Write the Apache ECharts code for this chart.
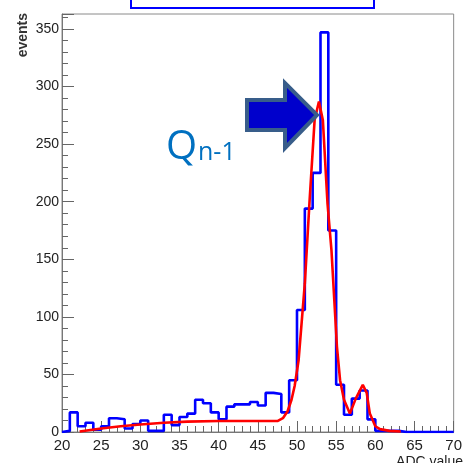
<!DOCTYPE html>
<html>
<head>
<meta charset="utf-8">
<script src="https://cdn.jsdelivr.net/npm/echarts@6/dist/echarts.min.js"></script>
<style>
html,body{margin:0;padding:0;background:#fff;}
#chart{width:465px;height:463px;}
</style>
</head>
<body>
<div id="chart"></div>
<script>
// ---- data ----
var binStart = 20;          // ADC value of first bin low edge
var binWidth = 1;
var histCounts = [1, 17, 5, 8, 2, 5, 12, 11, 3, 7,
                  10, 1, 1, 15, 6, 13, 16, 28, 25, 17,
                  11, 22, 24, 24, 26, 23, 34, 33, 17, 45,
                  106, 194, 225, 347, 175, 41, 15, 29, 36, 11,
                  1, 1, 1, 0, 0, 0, 0, 0, 0, 0];
var fitX = [22.25, 25, 27.5, 30, 33, 36, 40, 44, 47.5, 48.2, 48.8, 49.3, 49.7, 50.2, 51, 51.6, 52.25, 52.8, 53.3, 53.9, 54.4, 55.1, 55.5, 56, 56.75, 57.5, 58.4, 58.9, 59.3, 60, 60.6, 61.8, 63.25];
var fitY = [0.5, 3, 5, 6.5, 8, 9, 9.5, 9.5, 9.5, 12, 18, 28, 40, 62, 129, 200, 271, 287, 271, 198, 158, 74, 45, 28, 16, 29, 41, 34, 16, 5, 2.5, 1, 0.5];
var xTicks = [20, 25, 30, 35, 40, 45, 50, 55, 60, 65, 70];
var yTicks = [0, 50, 100, 150, 200, 250, 300, 350];

// ---- build series data ----
var histData = [[binStart, 0]];
for (var i = 0; i < histCounts.length; i++) {
  histData.push([binStart + i * binWidth, histCounts[i]]);
}
histData.push([binStart + histCounts.length * binWidth, 0]);
var fitData = fitX.map(function (x, i) { return [x, fitY[i]]; });

var chart = echarts.init(document.getElementById('chart'), null, {renderer: 'canvas'});
var labelFont = {color: '#222', fontFamily: 'Liberation Sans, sans-serif', fontSize: 14};

chart.setOption({
  animation: false,
  backgroundColor: '#fff',
  grid: {left: 62, right: 2, top: 14, bottom: 31, show: true, borderColor: '#8a8a8a', borderWidth: 1},
  xAxis: {
    type: 'value', min: xTicks[0], max: xTicks[xTicks.length - 1], interval: 5,
    axisLine: {show: true, lineStyle: {color: '#777', width: 1}},
    axisTick: {show: true, inside: true, length: 11, lineStyle: {color: '#666'}},
    minorTick: {show: true, splitNumber: 5, length: 6, lineStyle: {color: '#666'}},
    splitLine: {show: false},
    axisLabel: Object.assign({margin: 6, showMaxLabel: true}, labelFont, {fontSize: 15})
  },
  yAxis: {
    type: 'value', min: 0, max: 363, interval: 50,
    axisLine: {show: true, lineStyle: {color: '#777', width: 1}},
    axisTick: {show: true, inside: true, length: 12, lineStyle: {color: '#666'}},
    minorTick: {show: true, splitNumber: 5, length: 6, lineStyle: {color: '#666'}},
    splitLine: {show: false},
    axisLabel: Object.assign({margin: 3, showMaxLabel: false}, labelFont)
  },
  series: [
    {
      type: 'line', step: 'end', data: histData, symbol: 'none',
      lineStyle: {color: '#0000ff', width: 2.6}, z: 3
    },
    {
      type: 'line', data: fitData, symbol: 'none', smooth: false,
      lineStyle: {color: '#ff0000', width: 2.6}, z: 4
    }
  ],
  graphic: [
    {type: 'rect', shape: {x: 131, y: -10, width: 243, height: 18},
     style: {fill: '#fff', stroke: '#0000ff', lineWidth: 2}, z: 10},
    {type: 'text', x: 30, y: 13, rotation: Math.PI / 2,
     style: {text: 'events', fill: '#333', font: 'bold 14px Liberation Sans, sans-serif',
             textAlign: 'right', textVerticalAlign: 'bottom'}, z: 10},
    {type: 'text', x: 463, y: 455,
     style: {text: 'ADC value', fill: '#222', font: '14px Liberation Sans, sans-serif',
             textAlign: 'right', textVerticalAlign: 'top'}, z: 10},
    {type: 'text', x: 166, y: 128,
     style: {text: 'Q', fill: '#0070C0', font: '40px Open Sans, sans-serif',
             textAlign: 'left', textVerticalAlign: 'alphabetic'}, z: 10},
    {type: 'text', x: 198, y: 140,
     style: {text: 'n-1', fill: '#0070C0', font: '25px Open Sans, sans-serif',
             textAlign: 'left', textVerticalAlign: 'alphabetic'}, z: 10},
    {type: 'polygon',
     shape: {points: [[247, 100], [285, 100], [285, 83], [317, 115], [285, 148], [285, 130], [247, 130]]},
     style: {fill: '#0000CC', stroke: '#385D8A', lineWidth: 4, lineJoin: 'miter'}, z: 10}
  ]
});
</script>
</body>
</html>
